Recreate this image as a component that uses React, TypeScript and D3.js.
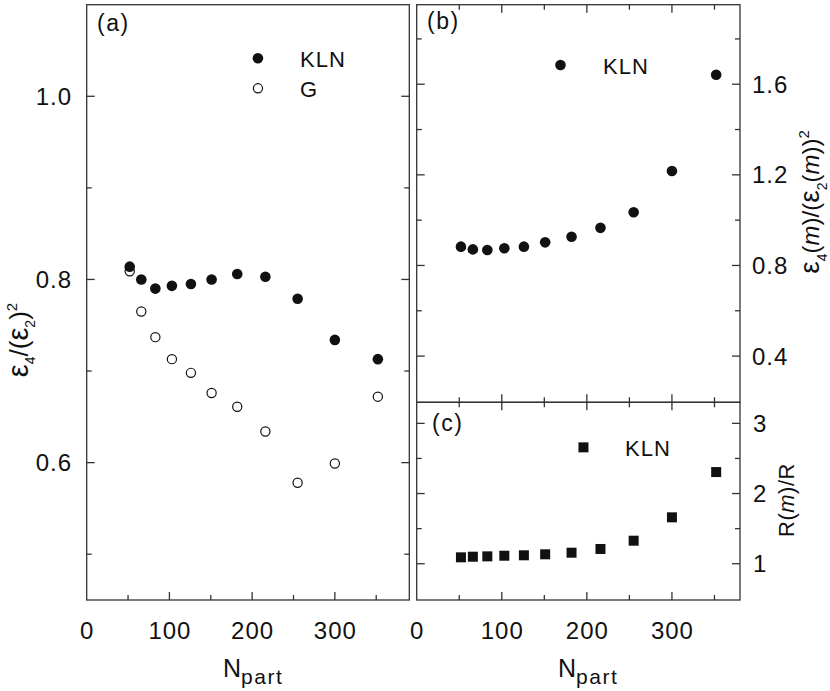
import * as d3 from 'd3'

// centrality classes, participant number
const NPART = [52, 66, 83, 103, 126, 151, 182, 216, 255, 300, 352]

// (a) eps4 / (eps2)^2
const KLN_A = [0.814, 0.8, 0.79, 0.793, 0.795, 0.8, 0.806, 0.803, 0.779, 0.734, 0.713]
const G_A = [0.809, 0.765, 0.737, 0.713, 0.698, 0.676, 0.661, 0.634, 0.578, 0.599, 0.672]

// (b) eps4(m) / (eps2(m))^2
const KLN_B = [0.883, 0.871, 0.868, 0.876, 0.883, 0.902, 0.927, 0.966, 1.035, 1.217, 1.642]

// (c) R(m) / R
const KLN_C = [1.091, 1.1, 1.105, 1.114, 1.12, 1.134, 1.157, 1.21, 1.328, 1.661, 2.306]

const X_LABELS = [0, 100, 200, 300]
const X_MINOR = [50, 150, 250, 350]
const A_Y_MAJOR = [0.6, 0.8, 1.0]
const A_Y_MINOR = [0.5, 0.7, 0.9]
const B_Y_MAJOR = [0.4, 0.8, 1.2, 1.6]
const B_Y_MINOR = [0.6, 1.0, 1.4, 1.8]
const C_Y_MAJOR = [1, 2, 3]
const C_Y_MINOR = [1.5, 2.5]

const FONT = '"Liberation Sans", Arial, sans-serif'
const INK = '#111'
const FRAME = '#333'

const W = 830
const H = 691

// panels
const xA = d3.scaleLinear([0, 390], [86.7, 409.3])
const yA = d3.scaleLinear([0.45, 1.1], [600, 4.7])
const xB = d3.scaleLinear([0, 380], [416.7, 740])
const yB = d3.scaleLinear([0.196, 1.951], [402.3, 4.7])
const yC = d3.scaleLinear([0.483, 3.3], [600, 402.3])

type Scale = d3.ScaleLinear<number, number>

function Frame({
  x,
  y,
  yMajor,
  yMinor,
  top,
}: {
  x: Scale
  y: Scale
  yMajor: number[]
  yMinor: number[]
  top: boolean
}) {
  const [x0, x1] = x.range()
  const [y1, y0] = y.range()
  const major = 8
  const minor = 5
  const xt = [...X_LABELS.filter((d) => d > 0).map((d) => ({ v: d, l: major })), ...X_MINOR.map((d) => ({ v: d, l: minor }))]
  const yt = [...yMajor.map((d) => ({ v: d, l: major })), ...yMinor.map((d) => ({ v: d, l: minor }))]
  return (
    <g stroke={FRAME} strokeWidth={1.3} fill="none">
      <rect x={x0} y={y0} width={x1 - x0} height={y1 - y0} />
      {xt.map((t) => (
        <line key={'b' + t.v} x1={x(t.v)} x2={x(t.v)} y1={y1} y2={y1 - t.l} />
      ))}
      {top &&
        xt.map((t) => (
          <line key={'t' + t.v} x1={x(t.v)} x2={x(t.v)} y1={y0} y2={y0 + t.l} />
        ))}
      {yt.map((t) => (
        <g key={'y' + t.v}>
          <line x1={x0} x2={x0 + t.l} y1={y(t.v)} y2={y(t.v)} />
          <line x1={x1} x2={x1 - t.l} y1={y(t.v)} y2={y(t.v)} />
        </g>
      ))}
    </g>
  )
}

function XLabels({ x }: { x: Scale }) {
  return (
    <g fontSize={24} letterSpacing={1} textAnchor="middle" fill={INK}>
      {X_LABELS.map((d) => (
        <text key={d} x={x(d) + 0.5} y={639}>
          {d}
        </text>
      ))}
    </g>
  )
}

export default function App() {
  const rA = 5.3
  return (
    <svg
      width={W}
      height={H}
      viewBox={`0 0 ${W} ${H}`}
      style={{ position: 'absolute', left: 0, top: 0, background: '#fff' }}
      fontFamily={FONT}
    >
      <rect width={W} height={H} fill="#fff" />

      {/* panel (a) */}
      <Frame x={xA} y={yA} yMajor={A_Y_MAJOR} yMinor={A_Y_MINOR} top={false} />
      <g fontSize={24} letterSpacing={1} textAnchor="end" fill={INK}>
        {A_Y_MAJOR.map((d) => (
          <text key={d} x={72} y={yA(d)} dy="0.36em">
            {d.toFixed(1)}
          </text>
        ))}
      </g>
      <XLabels x={xA} />
      {G_A.map((v, i) => (
        <circle key={'g' + i} cx={xA(NPART[i])} cy={yA(v)} r={4.6} fill="#fff" stroke={INK} strokeWidth={1.2} />
      ))}
      {KLN_A.map((v, i) => (
        <circle key={'k' + i} cx={xA(NPART[i])} cy={yA(v)} r={rA} fill={INK} />
      ))}
      <text x={97} y={31} fontSize={23} letterSpacing={1.5} fill={INK}>
        (a)
      </text>
      <circle cx={xA(207)} cy={yA(1.0415)} r={rA} fill={INK} />
      <circle cx={xA(207)} cy={yA(1.0087)} r={4.6} fill="#fff" stroke={INK} strokeWidth={1.2} />
      <g fontSize={22} letterSpacing={1} fill={INK}>
        <text x={300} y={66.5}>KLN</text>
        <text x={300} y={96.5}>G</text>
      </g>
      <text transform="translate(28,340) rotate(-90)" textAnchor="middle" fontSize={26} fill={INK}>
        <tspan fontSize={29}>ε</tspan>
        <tspan fontSize={14} dy={7}>4</tspan>
        <tspan dy={-7}>/(</tspan>
        <tspan fontSize={29}>ε</tspan>
        <tspan fontSize={14} dy={7}>2</tspan>
        <tspan dy={-7}>)</tspan>
        <tspan fontSize={15} dy={-11}>2</tspan>
      </text>
      <text x={223} y={677} fontSize={25} fill={INK}>
        N<tspan fontSize={21} letterSpacing={1.5} dy={7}>part</tspan>
      </text>

      {/* panel (b) */}
      <Frame x={xB} y={yB} yMajor={B_Y_MAJOR} yMinor={B_Y_MINOR} top={true} />
      <g fontSize={24} letterSpacing={1} fill={INK}>
        {B_Y_MAJOR.map((d) => (
          <text key={d} x={752} y={yB(d)} dy="0.36em">
            {d.toFixed(1)}
          </text>
        ))}
      </g>
      {KLN_B.map((v, i) => (
        <circle key={'b' + i} cx={xB(NPART[i])} cy={yB(v)} r={rA} fill={INK} />
      ))}
      <text x={427} y={29} fontSize={23} letterSpacing={1.5} fill={INK}>
        (b)
      </text>
      <circle cx={xB(169)} cy={yB(1.685)} r={rA} fill={INK} />
      <text x={603} y={74} fontSize={22} letterSpacing={1} fill={INK}>
        KLN
      </text>
      <text transform="translate(819,202) rotate(-90)" textAnchor="middle" fontSize={24} fill={INK}>
        <tspan fontSize={28}>ε</tspan>
        <tspan fontSize={14} dy={8}>4</tspan>
        <tspan dy={-8}>(</tspan>
        <tspan fontStyle="italic">m</tspan>
        <tspan>)/(</tspan>
        <tspan fontSize={28}>ε</tspan>
        <tspan fontSize={14} dy={8}>2</tspan>
        <tspan dy={-8}>(</tspan>
        <tspan fontStyle="italic">m</tspan>
        <tspan>))</tspan>
        <tspan fontSize={15} dy={-10}>2</tspan>
      </text>

      {/* panel (c) */}
      <Frame x={xB} y={yC} yMajor={C_Y_MAJOR} yMinor={C_Y_MINOR} top={true} />
      <g fontSize={24} letterSpacing={1} fill={INK}>
        {C_Y_MAJOR.map((d) => (
          <text key={d} x={753} y={yC(d)} dy="0.36em">
            {d}
          </text>
        ))}
      </g>
      <XLabels x={xB} />
      {KLN_C.map((v, i) => (
        <rect key={'c' + i} x={xB(NPART[i]) - 5} y={yC(v) - 5} width={10} height={10} fill={INK} />
      ))}
      <text x={432} y={430.5} fontSize={23} letterSpacing={1.5} fill={INK}>
        (c)
      </text>
      <rect x={xB(196) - 5} y={yC(2.658) - 5} width={10} height={10} fill={INK} />
      <text x={625} y={456} fontSize={22} letterSpacing={1} fill={INK}>
        KLN
      </text>
      <text transform="translate(794,500) rotate(-90)" textAnchor="middle" fontSize={22} letterSpacing={0.5} fill={INK}>
        R(<tspan fontStyle="italic">m</tspan>)/R
      </text>
      <text x={558} y={677} fontSize={25} fill={INK}>
        N<tspan fontSize={21} letterSpacing={1.5} dy={7}>part</tspan>
      </text>
    </svg>
  )
}
